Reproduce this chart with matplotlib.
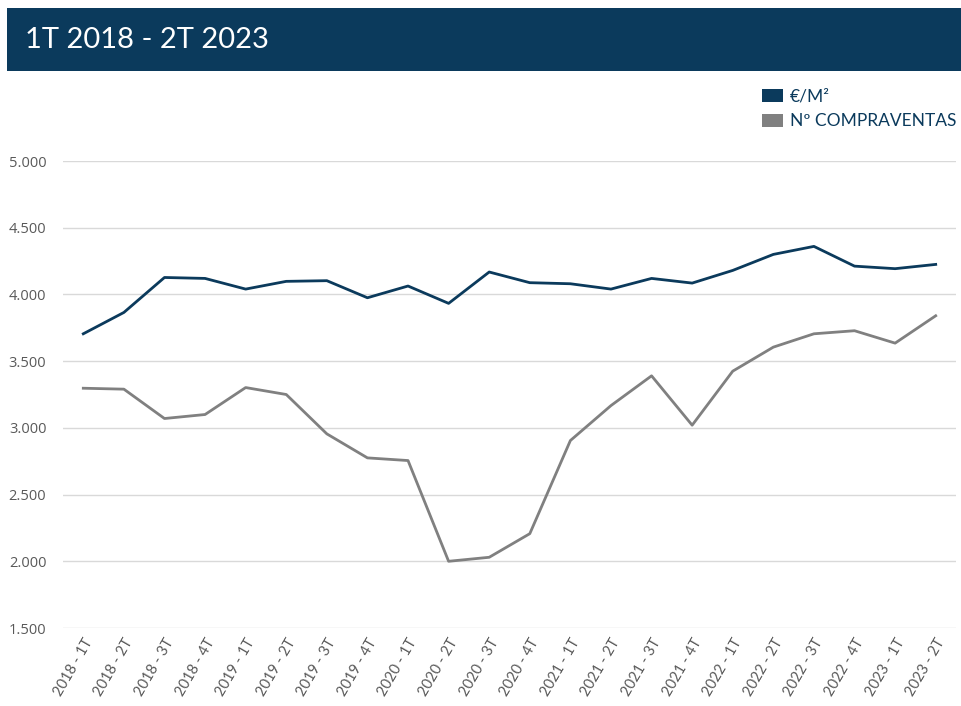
import matplotlib
matplotlib.use("Agg")
import matplotlib.pyplot as plt
from matplotlib.patches import Rectangle

categories = ["2018 - 1T", "2018 - 2T", "2018 - 3T", "2018 - 4T",
              "2019 - 1T", "2019 - 2T", "2019 - 3T", "2019 - 4T",
              "2020 - 1T", "2020 - 2T", "2020 - 3T", "2020 - 4T",
              "2021 - 1T", "2021 - 2T", "2021 - 3T", "2021 - 4T",
              "2022 - 1T", "2022 - 2T", "2022 - 3T", "2022 - 4T",
              "2023 - 1T", "2023 - 2T"]
precio_m2 = [3705, 3865, 4127, 4120, 4040, 4098, 4103, 3975, 4063, 3933,
             4168, 4088, 4080, 4040, 4120, 4085, 4180, 4300, 4360, 4212,
             4193, 4225]
compraventas = [3297, 3290, 3070, 3100, 3302, 3250, 2955, 2775, 2755, 2000,
                2030, 2207, 2905, 3167, 3390, 3020, 3425, 3605, 3705, 3728,
                3635, 3840]
y_ticks = [1500, 2000, 2500, 3000, 3500, 4000, 4500, 5000]
title = "1T 2018 - 2T 2023"
legend_labels = ["€/M²", "Nº COMPRAVENTAS"]

NAVY = "#0b3a5c"
GRAY = "#808080"
W, H = 962, 706

fig = plt.figure(figsize=(W / 100, H / 100), dpi=100)
fig.patch.set_facecolor("white")

# Title bar
fig.patches.append(Rectangle((7 / W, 1 - 71 / H), 1 - 7 / W, 63 / H,
                             transform=fig.transFigure, facecolor=NAVY,
                             edgecolor="none", zorder=0))
fig.text(25 / W, 1 - 40 / H, title, color="white", fontsize=21,
         family="Lato", fontweight="normal", va="center", ha="left")

# Legend
for i, (lab, col) in enumerate(zip(legend_labels, [NAVY, GRAY])):
    yc = 96 + i * 25
    fig.patches.append(Rectangle((762 / W, 1 - (yc + 6) / H), 21 / W, 13 / H,
                                 transform=fig.transFigure, facecolor=col,
                                 edgecolor="none"))
    fig.text(790 / W, 1 - yc / H, lab, color=NAVY, fontsize=12.5,
             family="Lato", va="center", ha="left")

ax = fig.add_axes([63 / W, 1 - 628 / H, (956 - 63) / W, (628 - 161) / H])
x = list(range(len(categories)))
ax.plot(x, precio_m2, color=NAVY, lw=2, solid_joinstyle="round", zorder=3)
ax.plot(x, compraventas, color=GRAY, lw=2, solid_joinstyle="round", zorder=3)

ax.set_xlim(-0.5, len(categories) - 0.5)
ax.set_ylim(1500, 5000)
ax.set_yticks(y_ticks)
ax.set_yticklabels([f"{v:,}".replace(",", ".") for v in y_ticks])
ax.set_xticks(x)
ax.set_xticklabels(categories, rotation=60, ha="right", va="top",
                   rotation_mode="anchor")
ax.grid(axis="y", color="#d9d9d9", lw=1)
ax.set_axisbelow(True)
for s in ax.spines.values():
    s.set_visible(False)
ax.tick_params(axis="both", length=0, colors="#595959")
ax.tick_params(axis="y", pad=12, labelsize=10.5)
ax.tick_params(axis="x", pad=6, labelsize=10.5)
for t in ax.get_yticklabels():
    t.set_family("Open Sans")
for t in ax.get_xticklabels():
    t.set_family("Lato")

fig.savefig("out.png", dpi=100)
